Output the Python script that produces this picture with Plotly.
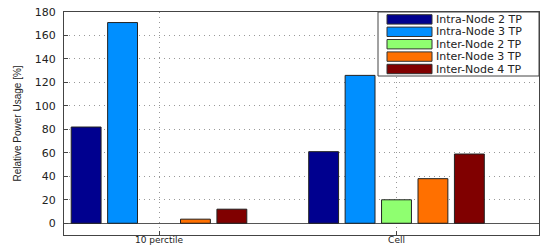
import plotly.graph_objects as go

categories = ["10 perctile", "Cell"]
series_names = ["Intra-Node 2 TP", "Intra-Node 3 TP", "Inter-Node 2 TP", "Inter-Node 3 TP", "Inter-Node 4 TP"]
intra2 = [82, 61]
intra3 = [171, 126]
inter2 = [None, 20]
inter3 = [3.5, 38]
inter4 = [12, 59]
y_ticks = [0, 20, 40, 60, 80, 100, 120, 140, 160, 180]

series_values = [intra2, intra3, inter2, inter3, inter4]
colors = ["#00008F", "#008FFF", "#8FFF70", "#FF7000", "#800000"]

W, H = 540, 246
L, R, T, B = 64, 539, 12, 235

fig = go.Figure()
for name, vals, col in zip(series_names, series_values, colors):
    fig.add_trace(go.Bar(x=categories, y=vals, name=name,
                         marker=dict(color=col, line=dict(color="#222", width=1)),
                         showlegend=False))

tickfont = dict(family="DejaVu Sans", size=11, color="#222")
fig.update_layout(
    width=W, height=H,
    margin=dict(l=L, r=W - R, t=T, b=H - B, pad=0, autoexpand=False),
    plot_bgcolor="white", paper_bgcolor="white",
    barmode="group", bargap=0.233, bargroupgap=0.18,
    xaxis=dict(range=[-0.4, 1.6], showline=True, mirror=True, linecolor="#444", linewidth=1,
               showgrid=True, gridcolor="#999", griddash="1px,4px", gridwidth=1,
               ticks="inside", ticklen=4, tickcolor="#444",
               tickfont=dict(family="DejaVu Sans", size=9, color="#222"),
               automargin=False, ticklabelstandoff=-4),
    yaxis=dict(range=[-10, 180], tickvals=y_ticks, showline=True, mirror=True,
               linecolor="#444", linewidth=1,
               showgrid=True, gridcolor="#999", griddash="1px,4px", gridwidth=1,
               zeroline=True, zerolinecolor="#555", zerolinewidth=1,
               ticks="inside", ticklen=4, tickcolor="#444", tickfont=tickfont,
               automargin=False, ticklabelstandoff=5,
               title=dict(text="Relative Power Usage [%]", standoff=11,
                          font=dict(family="Liberation Sans Narrow, Arial Narrow, Liberation Sans", size=10, color="#222"))),
)

def px_x(p):
    return (p - L) / (R - L)

def px_y(p):
    return (B - p) / (B - T)

# legend box
fig.add_shape(type="rect", xref="paper", yref="paper",
              x0=px_x(378), x1=px_x(539), y0=px_y(76), y1=px_y(12),
              line=dict(color="#444", width=1), fillcolor="white", layer="above")
row_centers = [19.4, 31.8, 44.2, 56.6, 69.0]
for name, col, cy in zip(series_names, colors, row_centers):
    fig.add_shape(type="rect", xref="paper", yref="paper",
                  x0=px_x(387), x1=px_x(432), y0=px_y(cy + 4.7), y1=px_y(cy - 4.7),
                  line=dict(color="#333", width=1), fillcolor=col, layer="above")
    fig.add_annotation(xref="paper", yref="paper", x=px_x(434), y=px_y(cy),
                       xanchor="left", yanchor="middle", text=name, showarrow=False,
                       font=dict(family="DejaVu Sans", size=11, color="#222"))

fig.write_html("out.html", config={"displayModeBar": False},
               post_script="document.body.style.margin='0';document.body.style.overflow='hidden';")
